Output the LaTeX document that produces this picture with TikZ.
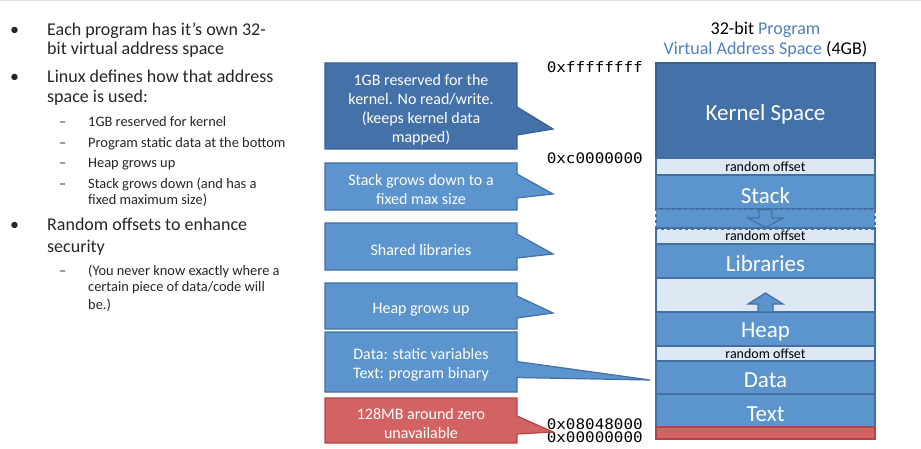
\documentclass[tikz,border=0pt]{standalone}
\usepackage{fontspec}
\setmainfont{Carlito}
\newfontfamily\addrfont[FakeStretch=1.1]{DejaVu Sans Mono}
\usetikzlibrary{shapes.callouts}
\definecolor{kdark}{RGB}{68,114,168}
\definecolor{kdarkline}{RGB}{56,96,145}
\definecolor{mblue}{RGB}{92,148,205}
\definecolor{mline}{RGB}{66,112,165}
\definecolor{lband}{RGB}{222,232,243}
\definecolor{tblue}{RGB}{79,129,189}
\definecolor{rfill}{RGB}{211,98,98}
\definecolor{rline}{RGB}{180,70,70}
\tikzset{
  pt/.style={x=1pt,y=-1pt},
  bul/.style={anchor=base west,inner sep=0pt,font=\fontsize{18}{20}\selectfont,text=black!85},
  subb/.style={anchor=base west,inner sep=0pt,font=\fontsize{14.4}{16.5}\selectfont,text=black!85},
  seg/.style={draw=mline,line width=1.6pt,minimum width=219pt,inner sep=0pt},
  segtext/.style={inner sep=0pt,text=white,font=\fontsize{23}{23}\selectfont},
  band/.style={seg,fill=lband,text=black,font=\fontsize{14}{14}\selectfont},
  cbox/.style={rectangle callout,line width=1.2pt,minimum width=192pt,inner sep=0pt},
  ctext/.style={inner sep=0pt,align=center,text=white,font=\fontsize{16}{19}\selectfont},
  addr/.style={anchor=east,inner sep=0pt,font=\addrfont\fontsize{14.5}{14.5}\selectfont},
  arrowshape/.style={draw=mline,line width=1.2pt,fill=mblue,line join=miter}
}
\begin{document}
\begin{tikzpicture}[pt]
\useasboundingbox (0,0) rectangle (921,449);
\fill[white] (0,0) rectangle (921,449);
\fill[black!12] (0,0) rectangle (921,1.5);

% ---------- left bullet text ----------
\node[bul] (b1d) at (10,35.5) {•};
\node[bul] (b1a) at (47,35.5) {Each program has it’s own 32-};
\node[bul] (b1b) at (47,55) {bit virtual address space};
\node[bul] (b2d) at (10,82.3) {•};
\node[bul] (b2a) at (47,82.3) {Linux defines how that address};
\node[bul] (b2b) at (47,102.5) {space is used:};
\node[subb] (s1d) at (59,126.7) {–};
\node[subb] (s1) at (88,126.7) {1GB reserved for kernel};
\node[subb] (s2d) at (59,147.3) {–};
\node[subb] (s2) at (88,147.3) {Program static data at the bottom};
\node[subb] (s3d) at (59,167.7) {–};
\node[subb] (s3) at (88,167.7) {Heap grows up};
\node[subb] (s4d) at (59,188.5) {–};
\node[subb] (s4a) at (88,188.5) {Stack grows down (and has a};
\node[subb] (s4b) at (88,204.3) {fixed maximum size)};
\node[bul] (b3d) at (10,231) {•};
\node[bul] (b3a) at (47,231) {Random offsets to enhance};
\node[bul] (b3b) at (47,252.3) {security};
\node[subb] (s5d) at (59,275.3) {–};
\node[subb] (s5a) at (88,275.3) {(You never know exactly where a};
\node[subb] (s5b) at (88,291) {certain piece of data/code will};
\node[subb] (s5c) at (88,309.3) {be.)};

% ---------- title ----------
\node[anchor=base,inner sep=0pt,font=\fontsize{18}{18}\selectfont] (t1) at (765.5,35) {32-bit \textcolor{tblue}{Program}};
\node[anchor=base,inner sep=0pt,font=\fontsize{18}{18}\selectfont] (t2) at (765.5,55) {\textcolor{tblue}{Virtual Address Space} (4GB)};

% ---------- address column ----------
\node[seg,fill=kdark,draw=kdarkline,minimum height=95pt] (kern) at (765.5,110.5) {};
\node[band,minimum height=17pt] (ro1) at (765.5,166.5) {random offset};
\node[seg,fill=mblue,minimum height=34pt] (stack) at (765.5,192) {};
\node[seg,fill=mblue,dashed,minimum height=19pt] (sgap) at (765.5,218.5) {};
\node[band,minimum height=16pt] (ro2) at (765.5,236) {random offset};
\draw[mline,line width=1.6pt,dashed] (sgap.south west) -- (sgap.south east);
\node[seg,fill=mblue,minimum height=34pt] (libs) at (765.5,261) {};
\node[seg,fill=lband,minimum height=34pt] (hgap) at (765.5,295) {};
\node[seg,fill=mblue,minimum height=34pt] (heap) at (765.5,329) {};
\node[band,minimum height=15pt] (ro3) at (765.5,353.5) {random offset};
\node[seg,fill=mblue,minimum height=33pt] (data) at (765.5,377.5) {};
\node[seg,fill=mblue,minimum height=33pt] (text) at (765.5,410.5) {};
\node[seg,fill=rfill,draw=rline,minimum height=12pt] (zero) at (765.5,433) {};

\node[segtext] (kernT) at (765.5,114) {Kernel Space};
\node[segtext] (stackT) at (765.5,196) {Stack};
\node[segtext] (libsT) at (765.5,264) {Libraries};
\node[segtext] (heapT) at (765.5,331.5) {Heap};
\node[segtext] (dataT) at (765.5,380.5) {Data};
\node[segtext] (textT) at (765.5,414) {Text};

% grow arrows
\draw[arrowshape] (759,209.8) -- (772,209.8) -- (772,218) -- (783,218) -- (765.5,227.5) -- (748,218) -- (759,218) -- cycle;
\draw[arrowshape] (758,312) -- (773,312) -- (773,304) -- (783,304) -- (765.5,293) -- (748,304) -- (758,304) -- cycle;

% ---------- addresses ----------
\node[addr] (a1) at (643,67) {0xffffffff};
\node[addr] (a2) at (643,158) {0xc0000000};
\node[addr] (a3) at (643,424.3) {0x08048000};
\node[addr] (a4) at (643,437.5) {0x00000000};

% ---------- callouts ----------
\coordinate (p1) at (553,129);
\coordinate (p2) at (553,194);
\coordinate (p3) at (553,254);
\coordinate (p4) at (553,313);
\coordinate (p5) at (650,380);
\coordinate (p6) at (553,432);
\node[cbox,fill=kdark,draw=kdarkline,minimum height=86pt,callout absolute pointer={(p1)},callout pointer width=28pt] (c1) at (421,106) {};
\node[cbox,fill=mblue,draw=mline,minimum height=47pt,callout absolute pointer={(p2)},callout pointer width=24pt] (c2) at (421,186.5) {};
\node[cbox,fill=mblue,draw=mline,minimum height=47pt,callout absolute pointer={(p3)},callout pointer width=24pt] (c3) at (421,246.5) {};
\node[cbox,fill=mblue,draw=mline,minimum height=46pt,callout absolute pointer={(p4)},callout pointer width=22pt] (c4) at (421,306) {};
\node[cbox,fill=mblue,draw=mline,minimum height=60pt,callout absolute pointer={(p5)},callout pointer width=16pt] (c5) at (421,362) {};
\node[cbox,fill=rfill,draw=rline,minimum height=45pt,callout absolute pointer={(p6)},callout pointer width=18pt] (c6) at (421,420.5) {};

\node[ctext] (c1t) at ([yshift=-3.5pt]c1.center) {1GB reserved for the\\kernel. No read/write.\\(keeps kernel data\\mapped)};
\node[ctext] (c2t) at ([yshift=-3pt]c2.center) {Stack grows down to a\\fixed max size};
\node[ctext] (c3t) at ([yshift=-3.5pt]c3.center) {Shared libraries};
\node[ctext] (c4t) at ([yshift=-4pt]c4.center) {Heap grows up};
\node[ctext] (c5t) at ([yshift=-3pt]c5.center) {Data: static variables\\Text: program binary};
\node[ctext] (c6t) at ([yshift=-3pt]c6.center) {128MB around zero\\unavailable};
\end{tikzpicture}
\end{document}
